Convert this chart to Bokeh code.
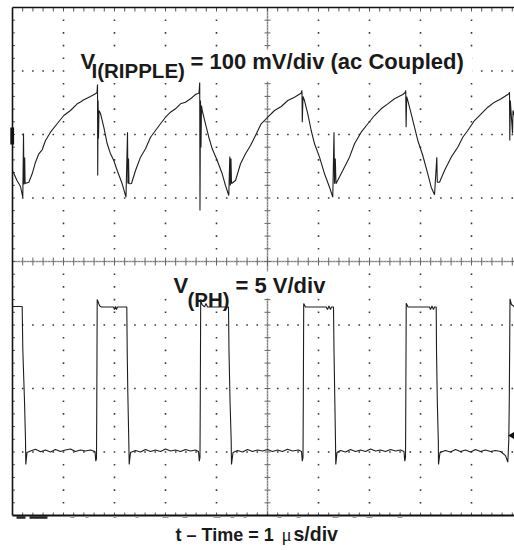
from bokeh.plotting import figure
from bokeh.models import Range1d
from bokeh.core.properties import value
from bokeh.embed import file_html
from bokeh.resources import INLINE

# Channel 1: input ripple, ac coupled (mV) vs time (us)
ripple_t = [0.010, 0.088, 0.157, 0.202, 0.216, 0.225, 0.239, 0.247, 0.320, 0.386, 0.451, 0.516,
            0.582, 0.647, 0.745, 0.876, 1.006, 1.137, 1.269, 1.333, 1.398, 1.529, 1.627, 1.657,
            1.667, 1.671, 1.678, 1.686, 1.696,
            1.725, 1.790, 1.857, 1.922, 1.986, 2.053, 2.151, 2.225,
            2.255, 2.263, 2.275, 2.284,
            2.333, 2.412, 2.510, 2.608, 2.706, 2.804, 2.902, 3.000, 3.098, 3.196, 3.294, 3.392,
            3.490, 3.588, 3.657,
            3.671, 3.676, 3.686, 3.696, 3.706,
            3.720, 3.784, 3.849, 3.916, 4.014, 4.112, 4.176, 4.241,
            4.261, 4.271, 4.284, 4.294,
            4.373, 4.471, 4.569, 4.667, 4.765, 4.876, 5.006, 5.137, 5.269, 5.398, 5.529, 5.657,
            5.676, 5.682, 5.696,
            5.725, 5.790, 5.857, 5.922, 6.020, 6.118, 6.216, 6.280,
            6.304, 6.314, 6.329, 6.343,
            6.476, 6.608, 6.706, 6.837, 6.967, 7.098, 7.229, 7.359, 7.490, 7.653, 7.700,
            7.710, 7.718, 7.729,
            7.751, 7.818, 7.882, 7.947, 8.045, 8.143, 8.210, 8.275,
            8.320, 8.329,
            8.373, 8.471, 8.602, 8.731, 8.829, 8.927, 9.059, 9.190, 9.320, 9.451, 9.582, 9.680, 9.735,
            9.745, 9.751, 9.761, 9.804, 9.814, 9.843]
ripple_mv = [-58.3, -72.4, -81.9, -99.2, 1.6, -78.7, -36.2, -77.2, -75.1, -61.9, -43.6, -30.4,
             -24.1, -9.4, 3.6, 16.9, 29.9, 37.8, 48.3, 51.2, 54.6, 59.8, 64.1, 66.1,
             78.7, -64.6, 53.5, -6.3, 37.8,
             33.1, 11.5, -14.6, -30.4, -40.9, -56.7, -77.6, -98.7,
             3.6, -77.2, -37.8, -77.6,
             -77.2, -56.7, -35.7, -22.5, -4.3, 6.3, 16.9, 27.2, 35.1, 40.5, 48.3, 50.9,
             56.2, 63.0, 65.4,
             81.9, -119.7, 53.5, -20.5, 45.7,
             37.8, 16.9, -4.3, -22.5, -40.9, -61.9, -80.3, -96.1,
             -34.6, -80.3, -37.8, -77.2,
             -72.4, -46.1, -30.4, -17.3, -1.6, 16.9, 27.2, 37.8, 44.1, 53.5, 58.7, 65.0,
             69.3, 19.4, 59.8,
             53.5, 32.6, 6.3, -14.6, -35.7, -61.9, -83.0, -98.7,
             3.6, -77.6, -37.8, -77.6,
             -56.7, -35.7, -14.6, 3.6, 16.9, 29.9, 40.5, 48.3, 56.2, 63.0, 66.1,
             69.3, 11.5, 59.8,
             53.5, 32.6, 11.5, -9.4, -33.1, -61.9, -83.0, -95.0,
             -35.7, -75.1,
             -75.1, -56.7, -35.7, -20.0, -4.3, 6.3, 22.0, 32.6, 43.0, 50.9, 56.2, 61.4, 64.1,
             66.6, -9.4, 53.5, 1.6, 37.8, 29.9]

# Channel 2: phase node voltage V(PH) (V) vs time (us)
ph_t = [0.000, 0.190, 0.202, 0.235, 0.255, 0.261, 0.284, 0.353, 0.451, 0.549, 0.647, 0.745, 0.843,
        0.941, 1.039, 1.137, 1.235, 1.333, 1.431, 1.529, 1.618, 1.633, 1.647, 1.653, 1.661, 1.692,
        1.712, 1.745, 1.980, 2.000, 2.020, 2.039, 2.059, 2.241, 2.249, 2.261, 2.280, 2.288, 2.314,
        2.412, 2.510, 2.608, 2.706, 2.804, 2.902, 3.000, 3.098, 3.196, 3.294, 3.392, 3.490, 3.588,
        3.647, 3.663, 3.676, 3.682, 3.690, 3.716, 3.765, 3.794, 3.824, 4.235, 4.245, 4.265, 4.288,
        4.294, 4.324,
        4.412, 4.510, 4.608, 4.706, 4.804, 4.902, 5.000, 5.098, 5.196, 5.294, 5.392, 5.490, 5.608,
        5.667, 5.682, 5.696, 5.702, 5.710, 5.745, 6.151, 6.176, 6.206, 6.235, 6.255, 6.294, 6.304,
        6.320, 6.333, 6.339, 6.363,
        6.431, 6.529, 6.627, 6.725, 6.824, 6.922, 7.020, 7.118, 7.216, 7.314, 7.412, 7.510, 7.608,
        7.676, 7.692, 7.706, 7.712, 7.720, 7.755, 8.176, 8.196, 8.225, 8.255, 8.275, 8.308, 8.314,
        8.329, 8.349, 8.353, 8.382,
        8.490, 8.588, 8.686, 8.784, 8.882, 8.980, 9.078, 9.176, 9.275, 9.373, 9.471, 9.569, 9.667,
        9.712, 9.731, 9.741, 9.755, 9.784, 9.843]
ph_v = [11.46, 11.46, 8.07, 4.06, 0.91, -0.98, -0.04, 0.08, 0.21, 0.02, 0.16, 0.00, 0.20,
        0.04, 0.16, 0.24, 0.04, 0.16, 0.08, 0.16, 0.04, -0.72, -0.51, 4.06, 12.01, 11.67,
        11.50, 11.42, 11.42, 11.22, 11.46, 11.22, 11.42, 11.42, 7.99, 4.69, 0.91, -0.98, -0.04,
        0.12, 0.00, 0.20, 0.04, 0.16, 0.04, 0.24, 0.08, 0.16, 0.04, 0.20, 0.08, 0.16,
        0.04, -0.72, -0.43, 4.06, 12.01, 11.61, 11.42, 11.69, 11.42, 11.42, 7.99, 4.06, 0.91,
        -0.98, -0.04,
        0.12, 0.00, 0.20, 0.04, 0.16, 0.08, 0.20, 0.04, 0.16, 0.04, 0.21, 0.08, 0.16,
        0.04, -0.72, -0.43, 4.06, 11.69, 11.42, 11.42, 11.22, 11.50, 11.22, 11.42, 11.42, 7.99,
        4.06, 0.91, -0.98, -0.04,
        0.12, 0.00, 0.20, 0.04, 0.16, 0.04, 0.24, 0.08, 0.16, 0.04, 0.20, 0.08, 0.16,
        0.04, -0.72, -0.43, 4.06, 11.72, 11.42, 11.42, 11.22, 11.50, 11.22, 11.42, 11.42, 7.99,
        4.06, 0.91, -0.98, -0.04,
        0.12, 0.00, 0.20, 0.04, 0.16, 0.00, 0.20, 0.04, 0.16, 0.04, 0.12, 0.04, -0.28,
        -0.80, 0.91, 4.06, 12.06, 11.61, 11.42]

# Scope settings
TIME_PER_DIV = 1.0      # us/div
RIPPLE_PER_DIV = 100.0  # mV/div
PH_PER_DIV = 5.0        # V/div
N_XDIV = 10
N_YDIV = 8
RIPPLE_OFFSET_DIV = 6.0  # ch1 ground marker position
PH_OFFSET_DIV = 1.0      # ch2 ground position
TRIGGER_V = 1.3          # ch2 trigger level marker

# ---------------- layout ----------------
W, H = 514, 550
PX_X = 51.0        # px per horizontal division
PX_Y = 63.5        # px per vertical division
LEFT_PAD = 12.0    # px from canvas edge to left frame line
TOP_PAD = 7.0      # px from canvas top to top frame line

x_lo = -LEFT_PAD / PX_X * TIME_PER_DIV
x_hi = x_lo + W / PX_X * TIME_PER_DIV
div_hi = N_YDIV + TOP_PAD / PX_Y
div_lo = div_hi - H / PX_Y


def mv(div):
    return (div - RIPPLE_OFFSET_DIV) * RIPPLE_PER_DIV


def tx(px):  # canvas px -> time
    return (px - LEFT_PAD) / PX_X * TIME_PER_DIV


def ty(py):  # canvas px -> ripple mV
    return mv(div_hi - py / PX_Y)


p = figure(width=W, height=H, x_range=Range1d(x_lo, x_hi),
           y_range=Range1d(mv(div_lo), mv(div_hi)),
           x_axis_type=None, y_axis_type=None, toolbar_location=None,
           output_backend="svg", min_border=0, outline_line_color=None,
           background_fill_color="white", border_fill_color="white")
p.extra_y_ranges = {"ph": Range1d((div_lo - PH_OFFSET_DIV) * PH_PER_DIV,
                                  (div_hi - PH_OFFSET_DIV) * PH_PER_DIV)}

GRID = "#3a3a3a"
SUB = 5  # minor subdivisions per division

# dotted grid
gx, gy = [], []
for i in range(1, N_XDIV):
    if i == N_XDIV // 2:
        continue
    for k in range(1, N_YDIV * SUB):
        gx.append(i * TIME_PER_DIV)
        gy.append(mv(k / SUB))
for j in range(1, N_YDIV):
    if j == N_YDIV // 2:
        continue
    for k in range(1, N_XDIV * SUB):
        if k % SUB == 0:
            continue
        gx.append(k / SUB * TIME_PER_DIV)
        gy.append(mv(j))
p.scatter(gx, gy, marker="square", size=1.6, fill_color=GRID, line_color=None)

# centre cross with ticks
cx = N_XDIV // 2 * TIME_PER_DIV
cy = mv(N_YDIV // 2)
p.segment(x0=[0, cx], y0=[cy, mv(0)], x1=[N_XDIV * TIME_PER_DIV, cx], y1=[cy, mv(N_YDIV)],
          line_color="#b0b0b0", line_width=1.6)
p.segment(x0=[0, cx], y0=[cy, mv(0)], x1=[N_XDIV * TIME_PER_DIV, cx], y1=[cy, mv(N_YDIV)],
          line_color="#555555", line_width=1, line_dash="1 2")
dy4 = 4 / PX_Y * RIPPLE_PER_DIV
dx3 = 3 / PX_X * TIME_PER_DIV
tks = [k / SUB * TIME_PER_DIV for k in range(1, N_XDIV * SUB)]
p.segment(x0=tks, y0=[cy - dy4] * len(tks), x1=tks, y1=[cy + dy4] * len(tks),
          line_color="#666666", line_width=1)
vks = [mv(k / SUB) for k in range(1, N_YDIV * SUB)]
p.segment(x0=[cx - dx3] * len(vks), y0=vks, x1=[cx + dx3] * len(vks), y1=vks,
          line_color="#666666", line_width=1)

# frame edge ticks
p.segment(x0=tks, y0=[mv(N_YDIV)] * len(tks), x1=tks, y1=[mv(N_YDIV) - dy4] * len(tks),
          line_color="#555555", line_width=1)
p.segment(x0=tks, y0=[mv(0)] * len(tks), x1=tks, y1=[mv(0) + 3 / PX_Y * RIPPLE_PER_DIV] * len(tks),
          line_color="#555555", line_width=1)
p.segment(x0=[0] * len(vks), y0=vks, x1=[2.5 / PX_X] * len(vks), y1=vks,
          line_color="#555555", line_width=1)

# frame lines (left, top, bottom)
p.segment(x0=[0, 0, 0], y0=[mv(0), mv(N_YDIV), mv(0)],
          x1=[0, N_XDIV * TIME_PER_DIV, N_XDIV * TIME_PER_DIV], y1=[mv(N_YDIV), mv(N_YDIV), mv(0)],
          line_color="#111111", line_width=[1.6, 1.4, 1.8])

# cut-off scope readout below the screen
p.quad(left=[tx(16), tx(29)], right=[tx(25), tx(47)], top=[ty(515.8)] * 2, bottom=[ty(518.3)] * 2,
       fill_color="#222222", line_color=None)
rd = [(70, 74), (85, 88), (113, 116), (135, 138), (162, 168), (182, 187), (213, 220), (230, 234),
      (243, 246), (277, 281), (296, 300), (332, 338), (352, 356), (366, 372), (397, 402)]
p.quad(left=[tx(a) for a, b in rd], right=[tx(b) for a, b in rd], top=[ty(515.8)] * len(rd),
       bottom=[ty(517.5)] * len(rd), fill_color="#9a9a9a", line_color=None)

# ch1 ground marker and ch2 trigger marker
p.quad(left=[tx(9.8)], right=[tx(13.6)], top=[ty(127)], bottom=[ty(144)],
       fill_color="#111111", line_color=None)
p.scatter([tx(511.5)], [TRIGGER_V], y_range_name="ph", marker="triangle", angle=1.5708,
          size=7, fill_color="#111111", line_color=None)

# label backgrounds
p.quad(left=[tx(72), tx(156)], right=[tx(472), tx(339)], top=[ty(49), ty(271)],
       bottom=[ty(81), ty(298)], fill_color="white", line_color=None)

# traces
p.line(ripple_t, ripple_mv, line_color="#1e1e1e", line_width=1.1)
p.line(ph_t, ph_v, y_range_name="ph", line_color="#1e1e1e", line_width=1.1)

# labels (baseline positions in canvas px; SVG text sits ~0.37 em low, compensate)
F = value("Liberation Sans")
common = dict(text_font=F, text_font_style="bold", text_baseline="alphabetic",
              text_align="left", text_color="#1a1a1a")


def put(px, py, txt, size, **kw):
    opts = dict(common)
    opts.update(kw)
    p.text(x=[tx(px)], y=[ty(py - 0.37 * size)], text=[txt], text_font_size=f"{size}px", **opts)


put(80, 69, "V", 22)
put(91, 77.5, "I(RIPPLE)", 20.5)
put(190, 69, "= 100 mV/div (ac Coupled)", 22)
put(173, 293, "V", 22)
put(187, 307, "(PH)", 20.5)
put(235, 293, "= 5 V/div", 22)

put(175, 541, "t \u2013 Time = 1", 18)
put(281, 541, "\u03bc", 19, text_font=value("Liberation Serif"), text_font_style="normal")
put(293, 541, "s/div", 19.5)

open("out.html", "w").write(file_html(p, INLINE))
